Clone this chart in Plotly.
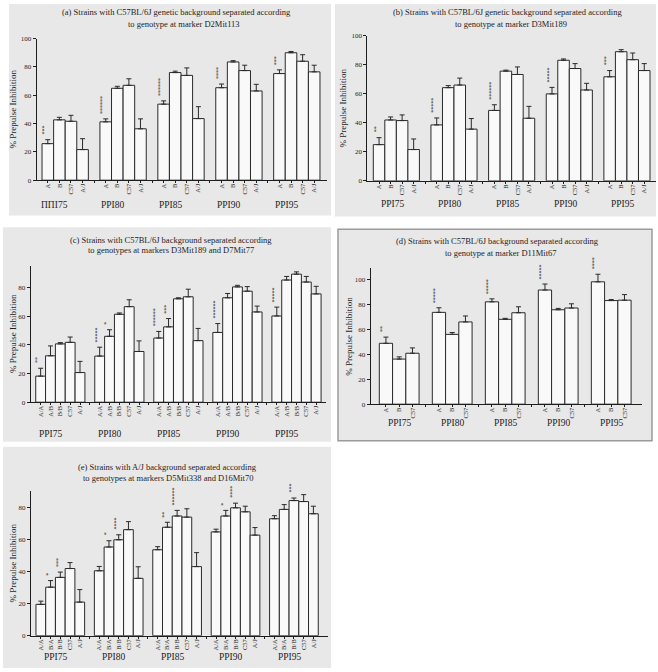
import plotly.graph_objects as go

W, H = 658, 672

# ---------------- data ----------------
ppi_a = ["ΠΠΙ75", "PPI80", "PPI85", "PPI90", "PPI95"]
ppi = ["PPI75", "PPI80", "PPI85", "PPI90", "PPI95"]

# (a) marker D2Mit113
a_strains = ["A", "B", "C57", "A/J"]
a_A = [25.8, 41.2, 53.7, 65.3, 75.3]
a_A_err = [2.8, 2.1, 2.3, 2.6, 2.6]
a_A_sig = ["***", "******", "******", "****", "***"]
a_B = [42.6, 64.9, 76.0, 83.5, 90.0]
a_B_err = [1.8, 1.4, 1.0, 0.9, 0.9]
a_C57 = [41.6, 67.0, 74.0, 77.4, 84.0]
a_C57_err = [4.2, 4.6, 5.3, 3.8, 4.6]
a_AJ = [21.6, 36.3, 43.5, 63.0, 76.5]
a_AJ_err = [7.7, 7.0, 8.4, 4.7, 4.7]

# (b) marker D3Mit189
b_strains = ["A", "B", "C57", "A/J"]
b_A = [25.0, 38.6, 48.6, 60.0, 71.8]
b_A_err = [4.8, 4.8, 3.9, 4.5, 4.3]
b_A_sig = ["**", "*****", "******", "*****", "***"]
b_B = [42.0, 64.3, 75.7, 83.2, 89.1]
b_B_err = [2.1, 1.4, 0.7, 0.9, 1.4]
b_C57 = [41.6, 66.1, 73.4, 77.5, 83.6]
b_C57_err = [3.9, 4.8, 5.2, 3.4, 4.6]
b_AJ = [21.6, 35.7, 43.2, 62.7, 76.1]
b_AJ_err = [7.3, 7.3, 8.2, 4.6, 4.8]

# (c) markers D3Mit189 and D7Mit77
c_strains = ["A/A", "A/B", "B/B", "C57", "A/J"]
c_AA = [18.2, 32.2, 44.8, 48.7, 60.2]
c_AA_err = [5.5, 6.2, 4.6, 6.2, 6.2]
c_AA_sig = ["**", "*****", "******", "******", "*****"]
c_AB = [32.4, 46.0, 52.6, 72.9, 85.3]
c_AB_err = [6.9, 4.6, 5.8, 3.0, 2.5]
c_AB_sig = ["", "*", "***", "", ""]
c_BB = [40.7, 61.4, 72.2, 80.5, 89.4]
c_BB_err = [0.9, 0.9, 0.7, 1.1, 1.6]
c_C57 = [41.8, 66.7, 73.6, 77.5, 83.9]
c_C57_err = [3.7, 4.8, 5.3, 3.2, 3.9]
c_AJ = [20.7, 35.4, 43.0, 63.0, 75.6]
c_AJ_err = [7.8, 7.4, 8.5, 4.1, 5.3]

# (d) marker D11Mit67
d_strains = ["A", "B", "C57"]
d_A = [49.0, 73.9, 82.4, 91.9, 98.5]
d_A_err = [5.0, 3.7, 2.4, 4.8, 6.1]
d_A_sig = ["**", "*****", "*****", "*****", "****"]
d_B = [36.3, 56.2, 68.3, 76.0, 83.4]
d_B_err = [1.8, 1.5, 0.8, 1.1, 0.8]
d_C57 = [41.0, 66.2, 73.6, 77.4, 83.7]
d_C57_err = [4.3, 4.8, 4.8, 3.4, 4.5]

# (e) markers D5Mit338 and D16Mit70
e_strains = ["A/A", "B/A", "B/B", "C57", "A/J"]
e_AA = [19.5, 40.4, 53.5, 64.6, 72.8]
e_AA_err = [2.0, 2.7, 1.9, 1.7, 1.9]
e_BA = [30.2, 55.2, 67.5, 74.5, 78.6]
e_BA_err = [4.1, 3.9, 3.1, 3.5, 3.0]
e_BA_sig = ["*", "*", "**", "*", ""]
e_BB = [36.3, 59.7, 74.5, 79.6, 84.1]
e_BB_err = [3.3, 3.1, 3.5, 2.9, 1.6]
e_BB_sig = ["***", "****", "******", "****", "***"]
e_C57 = [41.8, 66.0, 73.8, 77.1, 83.5]
e_C57_err = [3.7, 5.0, 5.2, 3.5, 4.3]
e_AJ = [20.9, 35.7, 43.0, 62.6, 75.9]
e_AJ_err = [7.8, 7.2, 8.7, 4.7, 4.7]

# ---------------- drawing ----------------
FONT = "Liberation Serif"
INK = "#1e1e1e"
fig = go.Figure()
shapes = []
annotations = []
axes = {}


def px_x(p):
    return p / W


def px_y(p):
    return 1 - p / H


def add_panel(n, strains, means, errs, sigs, groups, period, xpx, ypx, xrange_, yrange_,
              ytickvals, title1, title2, t1, t2, ylab_x, grp_dx, grp_y, bg, border=False):
    xa = "x" if n == 1 else f"x{n}"
    ya = "y" if n == 1 else f"y{n}"
    shapes.append(dict(type="rect", xref="paper", yref="paper",
                       x0=px_x(bg[0]), x1=px_x(bg[1]), y0=px_y(bg[3]), y1=px_y(bg[2]),
                       fillcolor="#e8e8e8",
                       line=dict(width=1.5 if border else 0, color="#9a9a9a"),
                       layer="below"))
    ng = len(groups)
    ns = len(strains)
    for i, s in enumerate(strains):
        xs = [g * period + i for g in range(ng)]
        fig.add_trace(go.Bar(
            x=xs, y=means[i], width=1, xaxis=xa, yaxis=ya, name=s, showlegend=False,
            marker=dict(color="#f9f9f9", line=dict(color="#2a2a2a", width=1)),
            error_y=dict(type="data", array=errs[i], arrayminus=[0] * ng, symmetric=False,
                         color="#2a2a2a", thickness=1, width=2.5)))
        if sigs[i] is not None:
            for g, st in enumerate(sigs[i]):
                if st:
                    annotations.append(dict(
                        x=xs[g] - 0.3, y=means[i][g] + errs[i][g], xref=xa, yref=ya,
                        text=st, textangle=-90, showarrow=False, xanchor="center",
                        yanchor="bottom", yshift=3,
                        font=dict(family=FONT, size=6, color=INK)))
    last = (ng - 1) * period + ns - 1
    tickvals = list(range(0, last + 1))
    ticktext = [strains[v % period] if v % period < ns else "" for v in tickvals]
    axes["xaxis" if n == 1 else f"xaxis{n}"] = dict(
        domain=[px_x(xpx[0]), px_x(xpx[1])], range=xrange_, anchor=ya,
        tickmode="array", tickvals=tickvals, ticktext=ticktext, tickangle=-90,
        ticks="outside", ticklen=2, tickcolor=INK, showline=True, linecolor=INK,
        linewidth=1, showgrid=False, zeroline=False, ticklabelstandoff=-2,
        tickfont=dict(family=FONT, size=6.5, color=INK))
    axes["yaxis" if n == 1 else f"yaxis{n}"] = dict(
        domain=[px_y(ypx[0]), px_y(ypx[1])], range=yrange_, anchor=xa,
        tickmode="array", tickvals=ytickvals, ticks="outside", ticklen=3,
        tickcolor=INK, showline=True, linecolor=INK, linewidth=1,
        showgrid=False, zeroline=False,
        tickfont=dict(family=FONT, size=7, color=INK))
    for g, lab in enumerate(groups):
        annotations.append(dict(
            x=g * period + (ns - 1) / 2 + grp_dx, y=px_y(grp_y), xref=xa, yref="paper",
            text=lab, showarrow=False, xanchor="center", yanchor="middle",
            font=dict(family=FONT, size=9.5, color=INK)))
    annotations.append(dict(x=px_x(t1[0]), y=px_y(t1[1]), xref="paper", yref="paper",
                            text=title1, showarrow=False, xanchor="center", yanchor="middle",
                            font=dict(family=FONT, size=8.5, color=INK)))
    annotations.append(dict(x=px_x(t2[0]), y=px_y(t2[1]), xref="paper", yref="paper",
                            text=title2, showarrow=False, xanchor="center", yanchor="middle",
                            font=dict(family=FONT, size=8.5, color=INK)))
    annotations.append(dict(x=px_x(ylab_x), y=px_y((ypx[0] + ypx[1]) / 2), xref="paper",
                            yref="paper", text="% Prepulse Inhibition", textangle=-90,
                            showarrow=False, xanchor="center", yanchor="middle",
                            font=dict(family=FONT, size=9, color=INK)))


add_panel(1, a_strains, [a_A, a_B, a_C57, a_AJ], [a_A_err, a_B_err, a_C57_err, a_AJ_err],
          [a_A_sig, None, None, None], ppi_a, 5, (36.7, 326.7), (178.3, 35), [-0.96, 24.08],
          [0, 100], [0, 20, 40, 60, 80, 100],
          "(a) Strains with C57BL/6J genetic background separated according",
          "to genotype at marker D2Mit113", (176, 8.5), (184, 20.5), 13, -0.9, 203,
          (9, 331, 0, 214))

add_panel(2, b_strains, [b_A, b_B, b_C57, b_AJ], [b_A_err, b_B_err, b_C57_err, b_AJ_err],
          [b_A_sig, None, None, None], ppi, 5, (367.3, 656), (179, 32.3), [-1.02, 24.02],
          [0, 100], [0, 20, 40, 60, 80, 100],
          "(b) Strains with C57BL/6J genetic background separated according",
          "to genotype at marker D3Mit189", (507, 8.5), (511, 20.5), 343, -0.35, 202,
          (335, 656, 0, 215))

add_panel(3, c_strains, [c_AA, c_AB, c_BB, c_C57, c_AJ],
          [c_AA_err, c_AB_err, c_BB_err, c_C57_err, c_AJ_err],
          [c_AA_sig, c_AB_sig, None, None, None], ppi, 6, (30.7, 326), (403, 265),
          [-1.01, 29.0], [0, 95.2], [0, 20, 40, 60, 80],
          "(c) Strains with C57BL/6J background separated according",
          "to genotypes at markers D3Mit189 and D7Mit77", (171, 238.5), (171, 249),
          13, -1.0, 435, (3, 331, 226, 443))

add_panel(4, d_strains, [d_A, d_B, d_C57], [d_A_err, d_B_err, d_C57_err],
          [d_A_sig, None, None], ppi, 4, (370.7, 641.7), (405, 266.7), [-1.15, 19.3],
          [0, 110], [0, 20, 40, 60, 80, 100],
          "(d) Strains with C57BL/6J background separated according",
          "to genotype at marker D11Mit67", (497, 239.5), (501, 251.5), 349, 0.0, 424,
          (338, 652, 228, 442), border=True)

add_panel(5, e_strains, [e_AA, e_BA, e_BB, e_C57, e_AJ],
          [e_AA_err, e_BA_err, e_BB_err, e_C57_err, e_AJ_err],
          [None, e_BA_sig, e_BB_sig, None, None], ppi, 6, (31, 328), (639.3, 493.3),
          [-1.01, 29.5], [0, 89.8], [0, 20, 40, 60, 80],
          "(e) Strains with A/J background separated according",
          "to genotypes at markers D5Mit338 and D16Mit70", (167, 468.5), (168, 480),
          13, -0.5, 661, (3, 331, 448, 672))

fig.update_layout(
    width=W, height=H, margin=dict(l=0, r=0, t=0, b=0),
    paper_bgcolor="white", plot_bgcolor="rgba(0,0,0,0)",
    barmode="overlay", shapes=shapes, annotations=annotations,
    font=dict(family=FONT, color=INK), showlegend=False, **axes)

fig.write_html("out.html", config={"displayModeBar": False},
               post_script="document.body.style.margin='0';document.body.style.overflow='hidden';")
